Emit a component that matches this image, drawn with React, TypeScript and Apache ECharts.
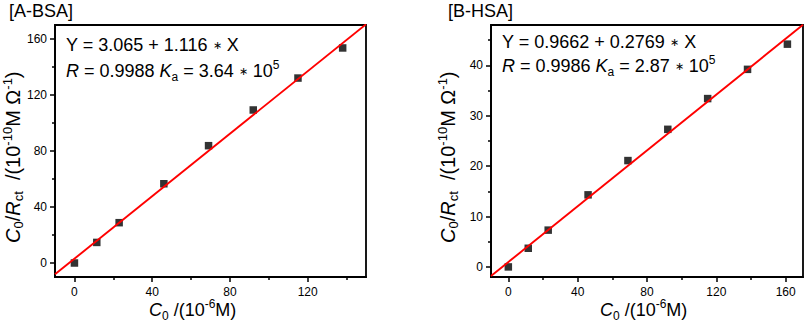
import React, { useEffect, useRef } from "react";
import * as echarts from "echarts";

// ---- data ----
const concA = [0, 11.5, 23, 46, 69, 92, 115, 138];
const respA = [0, 14.7, 28.8, 56.6, 83.8, 109.3, 132.1, 153.6];
const concB = [0, 11.5, 23, 46, 69, 92, 115, 138, 161];
const respB = [0, 3.7, 7.3, 14.3, 21.1, 27.3, 33.4, 39.2, 44.2];
const fitA = [3.065, 1.116];
const fitB = [0.9662, 0.2769];
const rangeAX = [-10, 150];
const rangeAY = [-10, 170];
const rangeBX = [-10, 170];
const rangeBY = [-2, 48];
const ticksAX = [0, 40, 80, 120];
const ticksAY = [0, 40, 80, 120, 160];
const ticksBX = [0, 40, 80, 120, 160];
const ticksBY = [0, 10, 20, 30, 40];
const minorAX = [20, 60, 100, 140];
const minorAY = [20, 60, 100, 140];
const minorBX = [20, 60, 100, 140];
const minorBY = [5, 15, 25, 35, 45];
const panelTitles = ["[A-BSA]", "[B-HSA]"];
const eqA = ["3.065", "1.116", "0.9988", "3.64"];
const eqB = ["0.9662", "0.2769", "0.9986", "2.87"];

const FONT = '"Liberation Sans", Arial, Helvetica, sans-serif';

const mkRich = (size: number, small: number) => ({
  n: { fontSize: size, lineHeight: 24, verticalAlign: "middle", fontFamily: FONT, fill: "#000" },
  i: { fontSize: size, lineHeight: 24, verticalAlign: "middle", fontStyle: "italic", fontFamily: FONT, fill: "#000" },
  ast: { fontSize: 11, lineHeight: 24, verticalAlign: "middle", fontFamily: FONT, fill: "#000" },
  sub: { fontSize: small, lineHeight: 8, verticalAlign: "bottom", fontFamily: FONT, fill: "#000" },
  sup: { fontSize: small, lineHeight: 10, verticalAlign: "top", fontFamily: FONT, fill: "#000" },
  supT: { fontSize: small, lineHeight: 15, verticalAlign: "top", fontFamily: FONT, fill: "#000" },
});

const textEl = (x: number, y: number, text: string, size: number, small = 12, rotation = 0) => ({
  type: "text",
  x,
  y,
  rotation,
  silent: true,
  style: {
    text,
    rich: mkRich(size, small),
    fill: "#000",
    fontFamily: FONT,
    fontSize: size,
    align: "left",
    textAlign: "left",
    verticalAlign: "middle",
    textVerticalAlign: "middle",
  },
});

const xTitle = "{i|C}{sub|0}{n| /(10}{supT|-6}{n|M)}";
const yTitle = "{i|C}{sub|0}{n|/}{i|R}{sub|ct}{n|  /(10}{supT|-10}{n|M Ω}{supT|-1}{n|)}";
const eq1 = (e: string[]) => `{n|Y = ${e[0]} + ${e[1]} }{ast|∗}{n| X}`;
const eq2 = (e: string[]) => `{i|R}{n| = ${e[2]} }{i|K}{sub|a}{n| = ${e[3]} }{ast|∗}{n| 10}{sup|5}`;

const fitLine = (f: number[], r: number[]) => r.map((x) => [x, f[0] + f[1] * x]);

const labelStyle = { color: "#000", fontSize: 12, fontFamily: FONT };

const mainAxis = (grid: number, range: number[], ticks: number[], isX: boolean) => ({
  type: "value",
  gridIndex: grid,
  min: range[0],
  max: range[1],
  position: isX ? "bottom" : "left",
  axisLine: { show: true, onZero: false, lineStyle: { color: "#000", width: 1.8 } },
  splitLine: { show: false },
  axisTick: {
    show: true,
    length: 5,
    customValues: ticks,
    lineStyle: { color: "#000", width: 1.5 },
  },
  axisLabel: { ...labelStyle, margin: isX ? 9 : 8, customValues: ticks },
});

const minorAxis = (grid: number, range: number[], ticks: number[], isX: boolean) => ({
  type: "value",
  gridIndex: grid,
  min: range[0],
  max: range[1],
  position: isX ? "bottom" : "left",
  axisLine: { show: false, onZero: false },
  splitLine: { show: false },
  axisTick: {
    show: true,
    length: 3,
    customValues: ticks,
    lineStyle: { color: "#000", width: 1.5 },
  },
  axisLabel: { show: false, customValues: ticks },
});

export default function App() {
  const ref = useRef<HTMLDivElement>(null);
  useEffect(() => {
    if (!ref.current) return;
    const chart = echarts.init(ref.current, undefined, { renderer: "svg" });
    const gridStyle = { show: true, borderColor: "#000", borderWidth: 1.8, backgroundColor: "transparent" };
    chart.setOption({
      animation: false,
      backgroundColor: "#fff",
      grid: [
        { left: 55, top: 25, width: 311, height: 252, ...gridStyle },
        { left: 491, top: 25, width: 312, height: 252, ...gridStyle },
      ],
      xAxis: [
        mainAxis(0, rangeAX, ticksAX, true),
        mainAxis(1, rangeBX, ticksBX, true),
        minorAxis(0, rangeAX, minorAX, true),
        minorAxis(1, rangeBX, minorBX, true),
      ],
      yAxis: [
        mainAxis(0, rangeAY, ticksAY, false),
        mainAxis(1, rangeBY, ticksBY, false),
        minorAxis(0, rangeAY, minorAY, false),
        minorAxis(1, rangeBY, minorBY, false),
      ],
      series: [
        {
          type: "line",
          xAxisIndex: 0,
          yAxisIndex: 0,
          data: fitLine(fitA, rangeAX),
          showSymbol: false,
          symbol: "none",
          clip: true,
          lineStyle: { color: "#ff0000", width: 1.9 },
          z: 3,
        },
        {
          type: "scatter",
          xAxisIndex: 0,
          yAxisIndex: 0,
          data: concA.map((x, i) => [x, respA[i]]),
          symbol: "rect",
          symbolSize: 7.5,
          itemStyle: { color: "#000" },
          z: 2,
        },
        {
          type: "line",
          xAxisIndex: 1,
          yAxisIndex: 1,
          data: fitLine(fitB, rangeBX),
          showSymbol: false,
          symbol: "none",
          clip: true,
          lineStyle: { color: "#ff0000", width: 1.9 },
          z: 3,
        },
        {
          type: "scatter",
          xAxisIndex: 1,
          yAxisIndex: 1,
          data: concB.map((x, i) => [x, respB[i]]),
          symbol: "rect",
          symbolSize: 7.5,
          itemStyle: { color: "#000" },
          z: 2,
        },
      ],
      graphic: [
        textEl(9, 11, `{n|${panelTitles[0]}}`, 18),
        textEl(448, 11, `{n|${panelTitles[1]}}`, 18),
        textEl(66, 45, eq1(eqA), 18),
        textEl(66, 71, eq2(eqA), 18),
        textEl(502, 42, eq1(eqB), 18),
        textEl(502, 66, eq2(eqB), 18),
        textEl(149, 310, xTitle, 18),
        textEl(600, 310, xTitle, 18),
        textEl(12.5, 243, yTitle, 20, 13, Math.PI / 2),
        textEl(448, 243, yTitle, 20, 13, Math.PI / 2),
      ],
    });
    return () => chart.dispose();
  }, []);
  return (
    <div
      ref={ref}
      style={{ position: "fixed", left: 0, top: 0, width: 805, height: 326, background: "#fff" }}
    />
  );
}
